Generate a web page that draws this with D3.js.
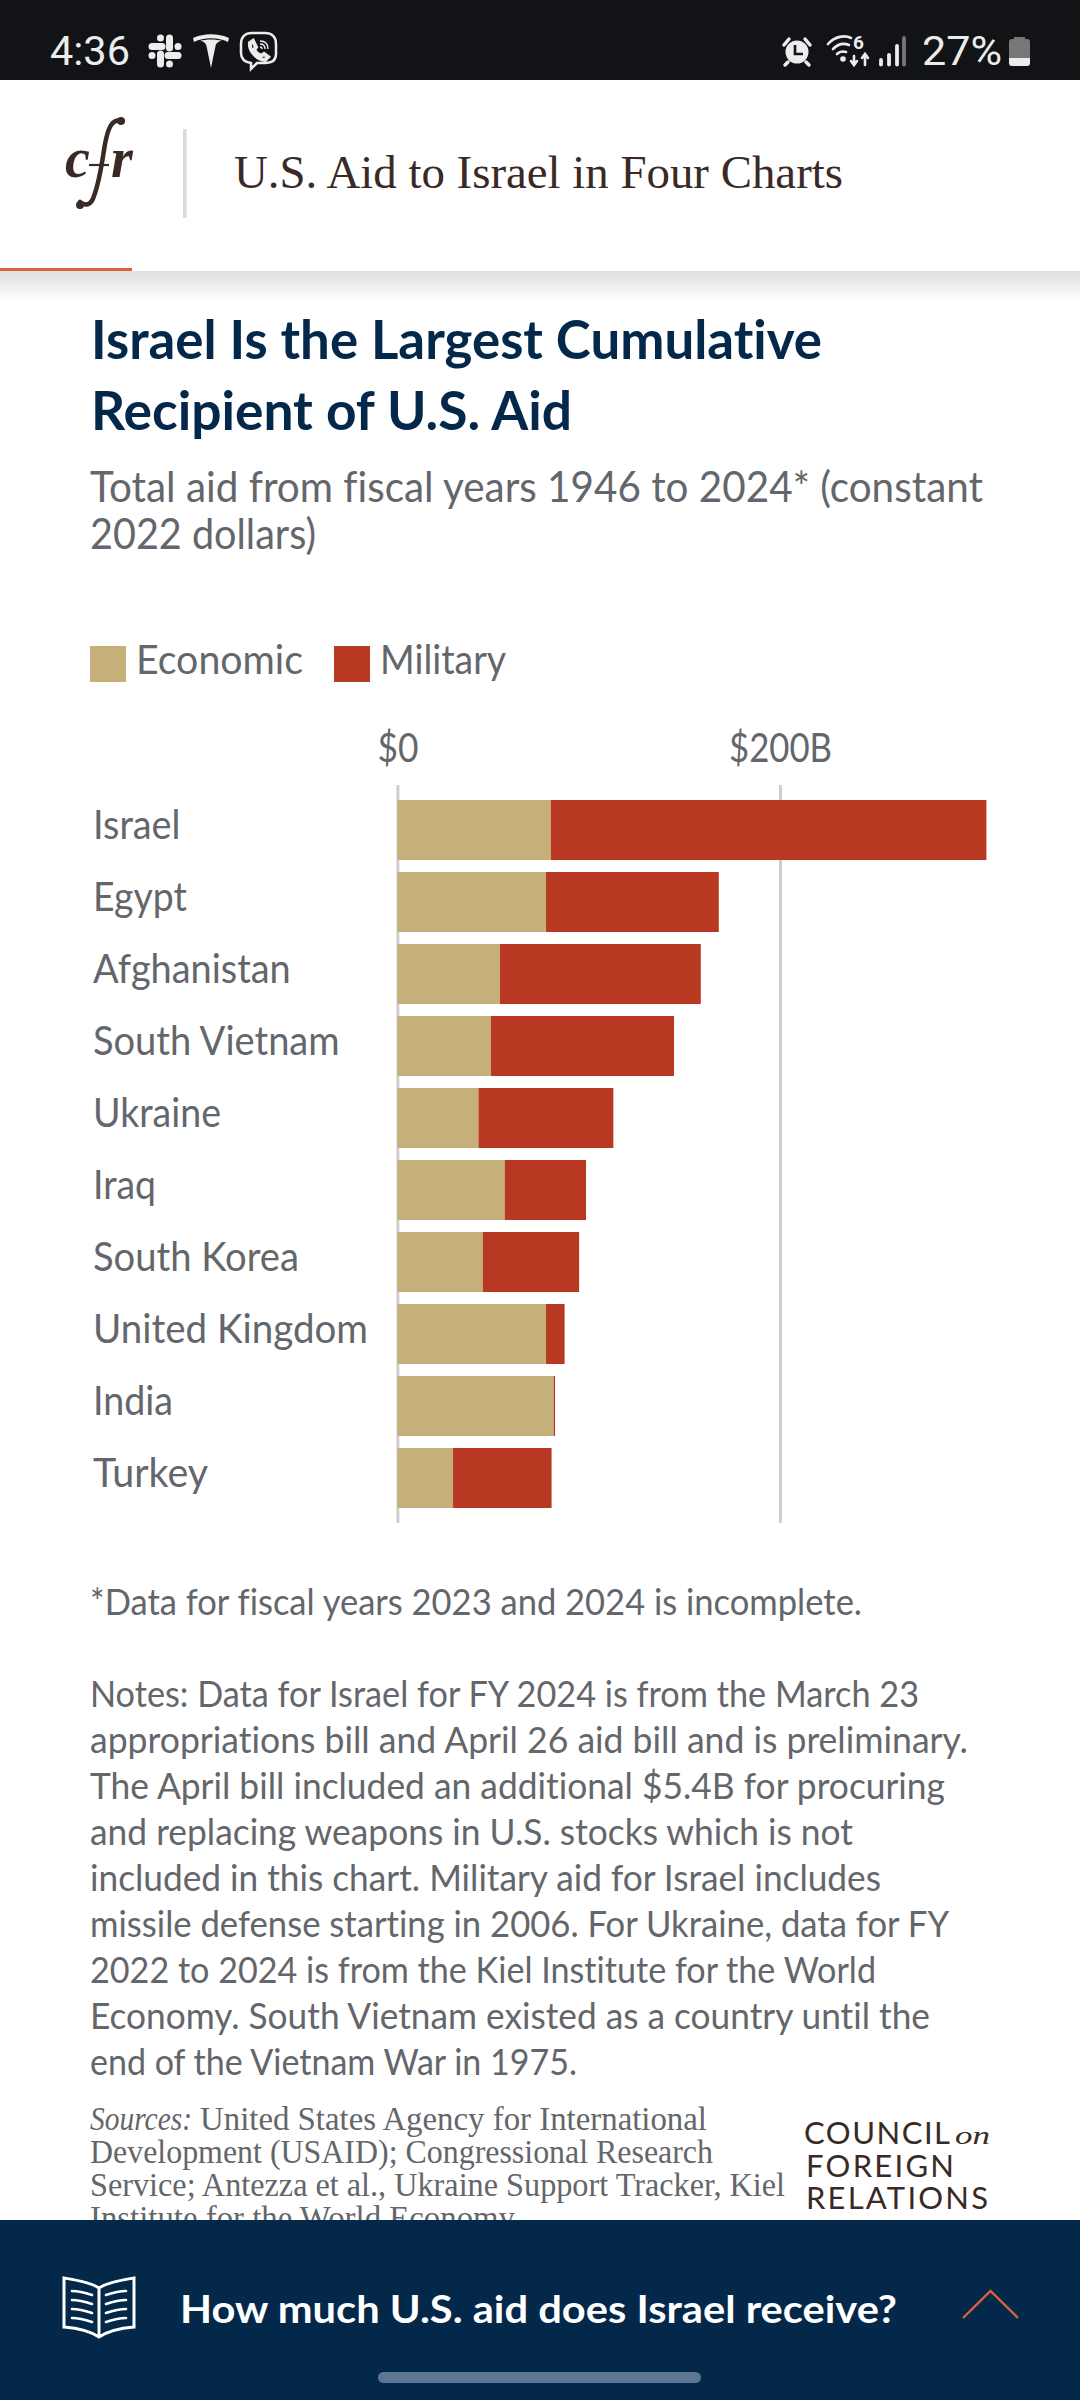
<!DOCTYPE html>
<html>
<head>
<meta charset="utf-8">
<script src="https://cdn.jsdelivr.net/npm/d3@7"></script>
<style>
html,body{margin:0;padding:0;background:#fff;}
svg{display:block;}
text{font-family:Lato,sans-serif;font-variant-ligatures:none;}
</style>
</head>
<body>
<svg id="chart" width="1080" height="2400"></svg>
<script>
const categories = ["Israel","Egypt","Afghanistan","South Vietnam","Ukraine","Iraq","South Korea","United Kingdom","India","Turkey"];
const economic = [80.2,77.7,53.6,48.9,42.4,56.1,44.6,77.7,81.7,29.1];
const military = [227.7,90.3,105,95.7,70.5,42.5,50.4,9.7,0.7,51.5];
const xTicks = [0,200];
const seriesNames = ["Economic","Military"];
const seriesColors = ["#c5b07a","#b93822"];

const titleLines = ["Israel Is the Largest Cumulative","Recipient of U.S. Aid"];
const subtitleLines = ["Total aid from fiscal years 1946 to 2024* (constant","2022 dollars)"];
const footnote = "*Data for fiscal years 2023 and 2024 is incomplete.";
const notes = [
 "Notes: Data for Israel for FY 2024 is from the March 23",
 "appropriations bill and April 26 aid bill and is preliminary.",
 "The April bill included an additional $5.4B for procuring",
 "and replacing weapons in U.S. stocks which is not",
 "included in this chart. Military aid for Israel includes",
 "missile defense starting in 2006. For Ukraine, data for FY",
 "2022 to 2024 is from the Kiel Institute for the World",
 "Economy. South Vietnam existed as a country until the",
 "end of the Vietnam War in 1975."];
const noteWidths = [829,878,855,763,791,859,786,840,487];
const sources = [
 "United States Agency for International",
 "Development (USAID); Congressional Research",
 "Service; Antezza et al., Ukraine Support Tracker, Kiel",
 "Institute for the World Economy"];
const sourceWidths = [507,623,695,425];
const categoryWidths = [87.5,94,197.7,246.6,128,63,206,275,80,115];

const GREY="#63666a", NAVY="#03284a", BROWN="#3a2a26", ORANGE="#d9623c";
const svg = d3.select("#chart");

function label(sel,o){
  const t = sel.append("text").attr("x",o.x).attr("y",o.y).text(o.t)
    .attr("fill",o.fill||GREY).attr("font-size",o.size)
    .attr("font-weight",o.weight||400)
    .attr("text-anchor",o.anchor||"start")
    .style("font-family",o.font||"Lato,sans-serif");
  if(o.italic) t.attr("font-style","italic");
  if(o.w) t.attr("textLength",o.w).attr("lengthAdjust",o.adjust||"spacingAndGlyphs");
  return t;
}

// page chrome
const defs = svg.append("defs");
const shade = defs.append("linearGradient").attr("id","shade").attr("x1",0).attr("x2",0).attr("y1",0).attr("y2",1);
shade.append("stop").attr("offset",0).attr("stop-color","#000").attr("stop-opacity",0.13);
shade.append("stop").attr("offset",1).attr("stop-color","#000").attr("stop-opacity",0);
svg.append("rect").attr("y",271).attr("width",1080).attr("height",30).attr("fill","url(#shade)");
svg.append("rect").attr("width",1080).attr("height",80).attr("fill","#121317");
svg.append("rect").attr("y",268).attr("width",132).attr("height",3).attr("fill",ORANGE);

// status bar
const W="#ececec";
label(svg,{x:50,y:64.5,t:"4:36",size:40,fill:W,font:"Roboto,sans-serif",w:80});
label(svg,{x:922,y:65,t:"27%",size:40,fill:W,font:"Roboto,sans-serif",w:80});
const slack = svg.append("g").attr("transform","translate(165,51)").attr("stroke",W).attr("stroke-width",7).attr("stroke-linecap","round").attr("fill","none");
[[-13,-4.5,-3,-4.5],[-4.5,-13,-4.5,-13],[4.5,-13,4.5,-3],[13,-4.5,13,-4.5],[3,4.5,13,4.5],[4.5,13,4.5,13],[-4.5,3,-4.5,13],[-13,4.5,-13,4.5]].forEach(s=>{
  slack.append("line").attr("x1",s[0]).attr("y1",s[1]).attr("x2",s[2]).attr("y2",s[3]);
});
svg.append("path").attr("fill",W).attr("d","M193 38C204 33 218 33 229 38L228 42C218 37 204 37 194 42Z");
svg.append("path").attr("fill",W).attr("d","M200 41C203 41 206 43 206.5 46L211 68L215.5 46C216 43 219 41 222 41C217 39 205 39 200 41Z");
const viber = svg.append("g").attr("fill","none").attr("stroke",W).attr("stroke-width",2.5);
viber.append("path").attr("d","M252 33H265C272 33 276 37 276 44V54C276 60 272 63 265 63H257L251 69V63C244 62 241 59 241 53V44C241 37 245 33 252 33Z");
viber.append("path").attr("stroke-width",4).attr("d","M250 43L253 41L256 47L254 50C256 53 258 55 261 56L264 54L268 57L265 60C258 60 249 51 250 43Z");
viber.append("path").attr("stroke-width",1.4).attr("d","M260 41C265 41 268 44 268 49M260 44C263 44 265 46 265 49M260 47C261 47 262 48 262 49");

const alarm = svg.append("g").attr("transform","translate(797,52)");
alarm.append("circle").attr("r",11.5).attr("fill",W);
alarm.append("path").attr("d","M-2 -7V2H6").attr("fill","none").attr("stroke","#121317").attr("stroke-width",2.6);
alarm.append("path").attr("d","M-13 -7L-8 -13M13 -7L8 -13M-9 10L-12 13M9 10L12 13").attr("stroke",W).attr("stroke-width",3.5).attr("stroke-linecap","round");
const wifi = svg.append("g").attr("fill","none").attr("stroke",W).attr("stroke-width",2.6).attr("stroke-linecap","round");
wifi.append("path").attr("d","M828 44C835 36 845 35 851 38M833 49C838 44 844 43 849 45M837 54C840 51 843 51 846 52");
wifi.append("circle").attr("cx",843).attr("cy",59).attr("r",1.5).attr("fill",W);
wifi.append("path").attr("d","M854 56V64M851 61L854 65L857 61M865 65V55M862 58L865 54L868 58");
label(svg,{x:853,y:49,t:"6",size:19,fill:W,font:"Roboto,sans-serif",weight:700});
const signal = svg.append("g").attr("stroke-width",3.8).attr("stroke-linecap","round");
[[881,60,W],[889,55,W],[897,46,W],[904,38,"#777"]].forEach(b=>{
  signal.append("line").attr("x1",b[0]).attr("x2",b[0]).attr("y1",b[1]).attr("y2",64.5).attr("stroke",b[2]);
});
svg.append("path").attr("fill","#777").attr("d","M1014 39V37H1025V39H1027Q1030 39 1030 42V58H1009V42Q1009 39 1012 39Z");
svg.append("path").attr("fill",W).attr("d","M1009 58H1030V63Q1030 66 1027 66H1012Q1009 66 1009 63Z");

// header
label(svg,{x:65,y:177,t:"c",size:56,fill:BROWN,font:"'Liberation Serif',serif",italic:true,weight:700});
svg.append("path").attr("fill","none").attr("stroke",BROWN).attr("stroke-width",4.5).attr("stroke-linecap","round")
  .attr("d","M122 121C112 118 108 128 105 144C102 162 100 180 94 196C91 206 85 206 80 202");
svg.append("circle").attr("cx",121).attr("cy",121).attr("r",4).attr("fill",BROWN);
svg.append("circle").attr("cx",80).attr("cy",205).attr("r",4).attr("fill",BROWN);
svg.append("line").attr("x1",89).attr("x2",109).attr("y1",165).attr("y2",165).attr("stroke",BROWN).attr("stroke-width",2.2);
label(svg,{x:111,y:177,t:"r",size:56,fill:BROWN,font:"'Liberation Serif',serif",italic:true,weight:700});
svg.append("rect").attr("x",183).attr("y",129).attr("width",3.5).attr("height",89).attr("fill","#d9d9d9");
label(svg,{x:234,y:188,t:"U.S. Aid to Israel in Four Charts",size:46,fill:BROWN,font:"'Liberation Serif',serif",w:609});

// titles
titleLines.forEach((t,i)=>label(svg,{x:91,y:359+i*71,t,size:54,fill:NAVY,weight:700,w:[731,481][i]}));
subtitleLines.forEach((t,i)=>label(svg,{x:90,y:501.5+i*47,t,size:42,w:[893,226][i]}));

// legend
const legend = svg.append("g");
[[90,136,167],[334,380,126]].forEach((l,i)=>{
  legend.append("rect").attr("x",l[0]).attr("y",646).attr("width",36).attr("height",36).attr("fill",seriesColors[i]);
  label(legend,{x:l[1],y:673.5,t:seriesNames[i],size:40,w:l[2]});
});

// chart
const x = d3.scaleLinear().domain([0,200]).range([397.4,780]);
const y = d3.scaleBand().domain(categories).range([794,1514]).paddingInner(1/6).paddingOuter(1/12);

const grid = d3.axisTop(x).tickValues(xTicks).tickSize(738).tickFormat(d=>d===0?"$0":"$"+d+"B");
const gx = svg.append("g").attr("transform","translate(0,1523)").call(grid);
gx.select(".domain").remove();
gx.selectAll(".tick line").attr("stroke","#cfcfcf").attr("stroke-width",3);
gx.selectAll(".tick text").attr("fill",GREY).attr("font-size",40)
  .style("font-family","Lato,sans-serif").attr("y",-761.5).attr("dy",0).attr("text-anchor","middle")
  .attr("textLength",(d,i)=>[41,103][i]).attr("lengthAdjust","spacingAndGlyphs");

const barsG = svg.append("g");
barsG.selectAll("rect.econ").data(categories).join("rect").attr("class","econ")
  .attr("x",x(0)).attr("y",d=>y(d)).attr("height",y.bandwidth())
  .attr("width",(d,i)=>x(economic[i])-x(0)).attr("fill",seriesColors[0]);
barsG.selectAll("rect.mil").data(categories).join("rect").attr("class","mil")
  .attr("x",(d,i)=>x(economic[i])).attr("y",d=>y(d)).attr("height",y.bandwidth())
  .attr("width",(d,i)=>x(economic[i]+military[i])-x(economic[i])).attr("fill",seriesColors[1]);

const gy = svg.append("g").attr("transform","translate(93,0)").call(d3.axisLeft(y).tickSize(0));
gy.select(".domain").remove();
gy.selectAll(".tick text").attr("x",0).attr("dy",0).attr("y",8.5).attr("text-anchor","start")
  .attr("fill",GREY).attr("font-size",40).style("font-family","Lato,sans-serif")
  .attr("textLength",(d,i)=>categoryWidths[i]).attr("lengthAdjust","spacingAndGlyphs");

// notes
label(svg,{x:90,y:1615,t:footnote,size:37.5,w:772});
notes.forEach((t,i)=>label(svg,{x:90,y:1707+i*46,t,size:37.5,w:noteWidths[i]}));

// sources
const srcFont="'Liberation Serif',serif";
sources.forEach((t,i)=>{
  svg.append("text").attr("x",i===0?200:90).attr("y",2130.4+i*33).attr("fill",GREY)
    .attr("font-size",33).style("font-family",srcFont).text(t)
    .attr("textLength",sourceWidths[i]).attr("lengthAdjust","spacingAndGlyphs");
});
label(svg,{x:90,y:2130.4,t:"Sources:",size:33,font:srcFont,italic:true,w:102});

// CFR wordmark
[["COUNCIL",804,2144,146],["FOREIGN",806,2177,148],["RELATIONS",806,2209,182]].forEach(l=>{
  label(svg,{x:l[1],y:l[2],t:l[0],size:31,fill:BROWN,w:l[3],adjust:"spacing"});
});
label(svg,{x:955,y:2144,t:"on",size:26,fill:BROWN,font:srcFont,italic:true,w:35});

// bottom bar
svg.append("rect").attr("y",2220).attr("width",1080).attr("height",180).attr("fill",NAVY);
const book = svg.append("g").attr("fill","none").attr("stroke","#fff").attr("stroke-width",3);
book.append("path").attr("d","M99 2288C90 2282 76 2280 64 2278V2327C76 2328 90 2331 99 2337C108 2331 122 2328 134 2327V2278C122 2280 108 2282 99 2288V2337");
book.append("path").attr("stroke-width",2.6).attr("stroke-linecap","round")
 .attr("d","M72 2291C79 2291 86 2293 92 2295M72 2300C79 2300 86 2302 92 2304M72 2309C79 2309 86 2311 92 2313M72 2318C79 2318 86 2320 92 2322M106 2295C112 2293 119 2291 126 2291M106 2304C112 2302 119 2300 126 2300M106 2313C112 2311 119 2309 126 2309M106 2322C112 2320 119 2318 126 2318");
label(svg,{x:180,y:2322.5,t:"How much U.S. aid does Israel receive?",size:38,fill:"#fff",weight:700,w:717});
svg.append("path").attr("d","M963 2318L990.5 2291L1018 2318").attr("fill","none").attr("stroke",ORANGE).attr("stroke-width",2.4);
svg.append("rect").attr("x",378).attr("y",2372).attr("width",323).attr("height",11).attr("rx",5.5).attr("fill","#5d7793");
</script>
</body>
</html>
